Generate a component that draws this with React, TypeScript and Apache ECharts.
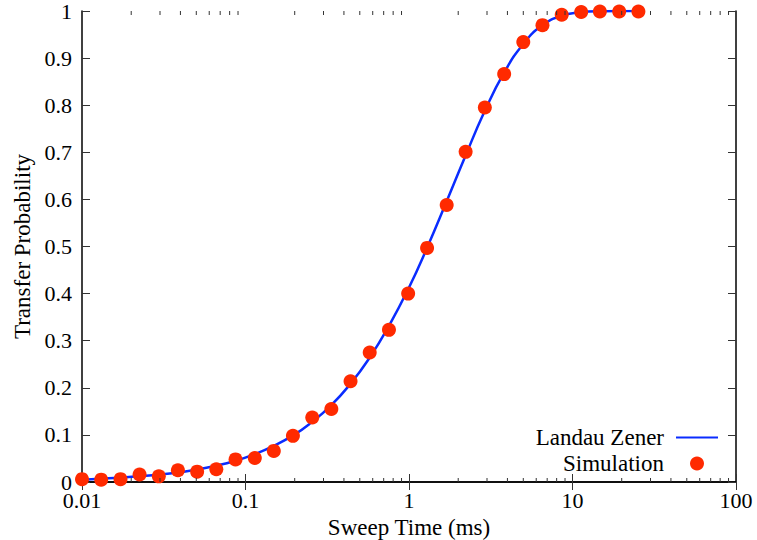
import React, { useEffect, useRef } from "react";
import * as echarts from "echarts";

const lineX = [0.01, 0.013, 0.017, 0.022, 0.03, 0.04, 0.05, 0.065, 0.085, 0.11, 0.15, 0.2, 0.25, 0.33, 0.44, 0.57, 0.75, 1.0, 1.3, 1.7, 2.2, 2.9, 3.8, 5.0, 6.5, 8.6, 11, 15, 19, 25];
const lineY = [0.005, 0.007, 0.009, 0.012, 0.016, 0.021, 0.026, 0.034, 0.044, 0.057, 0.077, 0.101, 0.125, 0.161, 0.209, 0.262, 0.33, 0.413, 0.5, 0.596, 0.69, 0.787, 0.868, 0.93, 0.969, 0.99, 0.997, 0.9997, 1.0, 1.0];

const simX = [0.01, 0.0131, 0.0172, 0.0225, 0.0295, 0.0386, 0.0506, 0.0663, 0.0869, 0.114, 0.149, 0.195, 0.256, 0.335, 0.439, 0.575, 0.754, 0.988, 1.29, 1.7, 2.22, 2.91, 3.82, 5.0, 6.55, 8.59, 11.3, 14.7, 19.3, 25.3];
const simY = [0.006, 0.005, 0.006, 0.016, 0.012, 0.025, 0.022, 0.027, 0.048, 0.051, 0.066, 0.098, 0.137, 0.155, 0.214, 0.275, 0.323, 0.4, 0.497, 0.588, 0.701, 0.795, 0.866, 0.934, 0.97, 0.992, 0.998, 0.999, 0.999, 0.999];

const xTickLabels = ["0.01", "0.1", "1", "10", "100"];
const yTickLabels = ["0", "0.1", "0.2", "0.3", "0.4", "0.5", "0.6", "0.7", "0.8", "0.9", "1"];
const minorTicks = [
  0.02, 0.03, 0.04, 0.05, 0.06, 0.07, 0.08, 0.09,
  0.2, 0.3, 0.4, 0.5, 0.6, 0.7, 0.8, 0.9,
  2, 3, 4, 5, 6, 7, 8, 9,
  20, 30, 40, 50, 60, 70, 80, 90,
];

const FONT = "Liberation Serif";

export default function App() {
  const ref = useRef<HTMLDivElement>(null);
  useEffect(() => {
    document.body.style.margin = "0";
    const chart = echarts.init(ref.current!, null, { renderer: "svg" });
    const axisLine = { show: true, lineStyle: { color: "#000", width: 1.5 } };
    const tick = { show: true, inside: true, length: 8, lineStyle: { color: "#333", width: 1 } };
    const labelStyle = { fontFamily: FONT, fontSize: 22, color: "#000", lineHeight: 16 };
    chart.setOption({
      animation: false,
      backgroundColor: "#fff",
      grid: { left: 82, right: 21, top: 11, bottom: 58, containLabel: false, outerBoundsMode: "none" },
      xAxis: [
        {
          type: "log",
          logBase: 10,
          min: 0.01,
          max: 100,
          position: "bottom",
          axisLine,
          axisTick: tick,
          splitLine: { show: false },
          axisLabel: { ...labelStyle, margin: 10, formatter: (_v: number, i: number) => xTickLabels[i] },
          name: "Sweep Time (ms)",
          nameLocation: "middle",
          nameGap: 25,
          nameTextStyle: { fontFamily: FONT, fontSize: 23, color: "#000", lineHeight: 22 },
        },
        {
          type: "log",
          logBase: 10,
          min: 0.01,
          max: 100,
          position: "top",
          axisLine,
          axisTick: tick,
          splitLine: { show: false },
          axisLabel: { show: false },
        },
      ],
      yAxis: [
        {
          type: "value",
          min: 0,
          max: 1,
          interval: 0.1,
          position: "left",
          axisLine,
          axisTick: tick,
          splitLine: { show: false },
          axisLabel: { ...labelStyle, margin: 10, formatter: (_v: number, i: number) => yTickLabels[i] },
          name: "Transfer Probability",
          nameLocation: "middle",
          nameGap: 49,
          nameTextStyle: { fontFamily: FONT, fontSize: 23, color: "#000", lineHeight: 22 },
        },
        {
          type: "value",
          min: 0,
          max: 1,
          interval: 0.1,
          position: "right",
          axisLine,
          axisTick: tick,
          splitLine: { show: false },
          axisLabel: { show: false },
        },
      ],
      legend: {
        data: [
          { name: "Landau Zener", icon: "path://M0 0 H42 V2 H0 Z" },
          { name: "Simulation", icon: "circle" },
        ],
        orient: "vertical",
        align: "right",
        right: 39,
        top: 426,
        padding: 0,
        itemWidth: 42,
        itemHeight: 14,
        itemGap: 3,
        symbolKeepAspect: true,
        textStyle: { fontFamily: FONT, fontSize: 23, color: "#000", padding: [0, 7, 0, 0] },
      },
      series: [
        {
          type: "custom",
          xAxisIndex: 0,
          yAxisIndex: 0,
          silent: true,
          clip: false,
          z: 10,
          data: minorTicks.map((v) => [v, 0.5]),
          renderItem: (params: any, api: any) => {
            const p = api.coord([api.value(0), api.value(1)]);
            const cs = params.coordSys;
            const yb = cs.y + cs.height;
            const yt = cs.y;
            const style = { stroke: "#333", lineWidth: 1 };
            return {
              type: "group",
              children: [
                { type: "line", shape: { x1: p[0], y1: yb, x2: p[0], y2: yb - 4 }, style },
                { type: "line", shape: { x1: p[0], y1: yt, x2: p[0], y2: yt + 4 }, style },
              ],
            };
          },
        },
        {
          name: "Landau Zener",
          type: "line",
          data: lineX.map((x, i) => [x, lineY[i]]),
          smooth: true,
          symbol: "none",
          lineStyle: { color: "#0a2cff", width: 2.5 },
          itemStyle: { color: "#0a2cff" },
          z: 2,
        },
        {
          name: "Simulation",
          type: "scatter",
          data: simX.map((x, i) => [x, simY[i]]),
          symbol: "circle",
          symbolSize: 14,
          itemStyle: { color: "#ff2a00", opacity: 1 },
          z: 3,
        },
      ],
    });
    return () => chart.dispose();
  }, []);
  return <div ref={ref} style={{ width: 757, height: 540 }} />;
}
